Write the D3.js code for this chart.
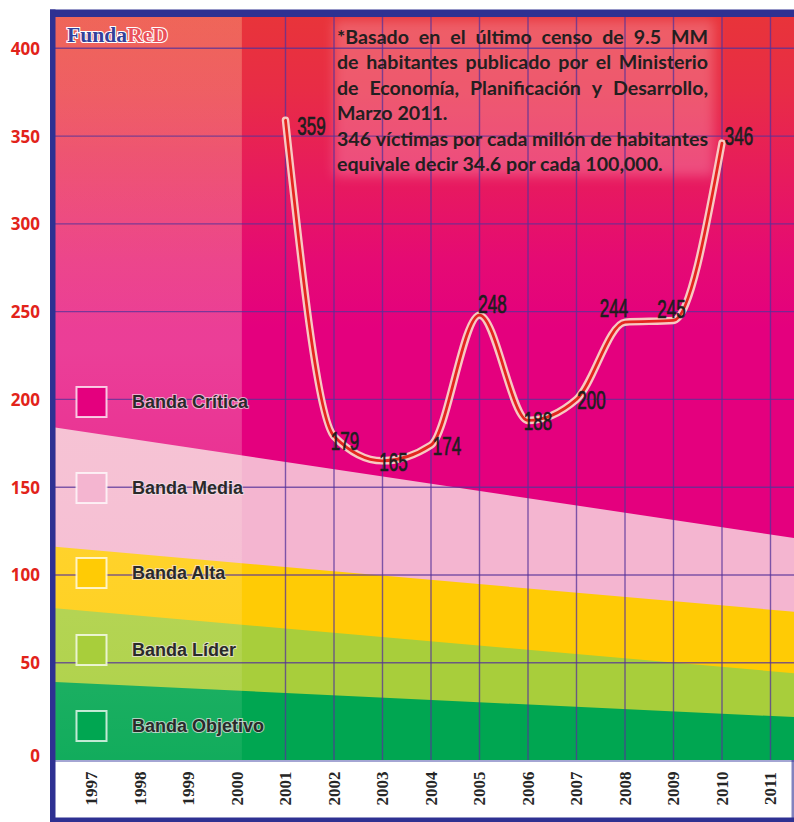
<!DOCTYPE html>
<html>
<head>
<meta charset="utf-8">
<script src="https://cdn.jsdelivr.net/npm/d3@7"></script>
<style>
  body { margin: 0; background: #ffffff; }
  svg { display: block; }
</style>
</head>
<body>
<svg id="chart" width="794" height="822"></svg>
<script>
// ---- data ----
const tickYears = [1997, 1998, 1999, 2000, 2001, 2002, 2003, 2004, 2005, 2006, 2007, 2008, 2009, 2010, 2011];
const yTicks = [0, 50, 100, 150, 200, 250, 300, 350, 400];
const years = [2001, 2002, 2003, 2004, 2005, 2006, 2007, 2008, 2009, 2010];
const victims = [359, 179, 165, 174, 248, 188, 200, 244, 245, 346];

const bandNames = ["Banda Crítica", "Banda Media", "Banda Alta", "Banda Líder", "Banda Objetivo"];
// upper edge of each lower band at the first and last edge year
const edgeYears = [1996.25, 2011.5];
const bandTopStart = [184, 116, 81, 39];
const bandTopEnd = [121, 79, 44, 19];
const shadedUntil = 2000.1;

const noteLines = [
  "*Basado en el último censo de 9.5 MM",
  "de habitantes  publicado por el Ministerio",
  "de Economía, Planificación y Desarrollo,",
  "Marzo 2011.",
  "346 víctimas por  cada millón de habitantes",
  "equivale decir 34.6 por cada 100,000."
];
const noteJustify = [true, true, true, false, true, false];

// ---- styles / layout ----
const bandColors = ["#E4007E", "#F4B5D0", "#FFCB05", "#A8CE3B", "#00A651"];
const legendRowY = [402, 488, 573, 650, 726];
const labelOffsets = [[26, 7], [11, 6], [11, 2], [16, 2], [13, -10], [10, 1], [15, 1], [-11, -13], [-2, -11], [17, -6]];
const plot = { left: 55, right: 794, top: 17, bottom: 760 };

const svg = d3.select("#chart");
const defs = svg.append("defs");

const x = d3.scaleLinear().domain([1997, 2011]).range([91.5, 770.5]);
const y = d3.scaleLinear().domain([0, 400]).range([750.5, 48.3]);

defs.append("clipPath").attr("id", "plotClip")
  .append("rect")
  .attr("x", plot.left).attr("y", plot.top)
  .attr("width", plot.right - plot.left).attr("height", plot.bottom - plot.top);

const grad = defs.append("linearGradient").attr("id", "critGrad")
  .attr("gradientUnits", "userSpaceOnUse")
  .attr("x1", 0).attr("x2", 0).attr("y1", plot.top).attr("y2", plot.bottom);
[[0, "#E8343A"], [0.1, "#E82C46"], [0.22, "#E71A5E"], [0.33, "#E50A74"], [0.42, "#E4007E"], [1, "#E4007E"]]
  .forEach(([o, c]) => grad.append("stop").attr("offset", o).attr("stop-color", c));

// shading for the early years: warmer and stronger at the top, fading downwards
const shade = defs.append("linearGradient").attr("id", "shadeGrad")
  .attr("gradientUnits", "userSpaceOnUse")
  .attr("x1", 0).attr("x2", 0).attr("y1", plot.top).attr("y2", plot.bottom);
shade.append("stop").attr("offset", 0).attr("stop-color", "#FFD9A0").attr("stop-opacity", 0.3);
shade.append("stop").attr("offset", 0.2).attr("stop-color", "#FFDDB8").attr("stop-opacity", 0.28);
shade.append("stop").attr("offset", 0.45).attr("stop-color", "#FFEFE0").attr("stop-opacity", 0.26);
shade.append("stop").attr("offset", 1).attr("stop-color", "#FFFFF0").attr("stop-opacity", 0.07);

const blur = defs.append("filter").attr("id", "soft")
  .attr("x", "-20%").attr("y", "-20%").attr("width", "140%").attr("height", "140%");
blur.append("feGaussianBlur").attr("stdDeviation", 6);

const body = svg.append("g").attr("clip-path", "url(#plotClip)");

// critical band background (gradient)
body.append("rect")
  .attr("x", plot.left).attr("y", plot.top)
  .attr("width", plot.right - plot.left).attr("height", plot.bottom - plot.top)
  .attr("fill", "url(#critGrad)");

// lower bands, each drawn from its upper edge down to the bottom
bandTopStart.forEach((v0, i) => {
  const v1 = bandTopEnd[i];
  const pts = [
    [x(edgeYears[0]), y(v0)],
    [x(edgeYears[1]), y(v1)],
    [x(edgeYears[1]), plot.bottom],
    [x(edgeYears[0]), plot.bottom]
  ];
  body.append("path")
    .attr("d", d3.line()(pts) + "Z")
    .attr("fill", bandColors[i + 1]);
});

// lighter shading over the years without data
body.append("rect")
  .attr("x", plot.left).attr("y", plot.top)
  .attr("width", x(shadedUntil) - plot.left).attr("height", plot.bottom - plot.top)
  .attr("fill", "url(#shadeGrad)");

// soft glow behind the note
body.append("rect")
  .attr("x", 334).attr("y", 20).attr("width", 380).attr("height", 156)
  .attr("fill", "#FFD8E4").attr("opacity", 0.26).attr("filter", "url(#soft)");

// grid
const grid = body.append("g").attr("stroke", "#55339A").attr("stroke-opacity", 0.75).attr("stroke-width", 1.4);
grid.selectAll("line.h").data(yTicks.filter(d => d > 0)).join("line")
  .attr("class", "h")
  .attr("x1", plot.left).attr("x2", plot.right)
  .attr("y1", d => y(d)).attr("y2", d => y(d));
grid.selectAll("line.v").data(tickYears.filter(d => d > 2000)).join("line")
  .attr("class", "v")
  .attr("x1", d => x(d)).attr("x2", d => x(d))
  .attr("y1", plot.top).attr("y2", plot.bottom);

// x-axis strip
svg.append("rect")
  .attr("x", plot.left).attr("y", plot.bottom)
  .attr("width", plot.right - plot.left - 2).attr("height", 818 - plot.bottom)
  .attr("fill", "#ffffff");
svg.append("line")
  .attr("x1", plot.left).attr("x2", plot.right)
  .attr("y1", plot.bottom + 1).attr("y2", plot.bottom + 1)
  .attr("stroke", "#4B4FA8").attr("stroke-width", 1.2);

svg.append("g").selectAll("text").data(tickYears).join("text")
  .attr("transform", d => `translate(${x(d)},788.5) rotate(-90)`)
  .attr("text-anchor", "middle").attr("dominant-baseline", "central")
  .attr("font-family", "Liberation Serif, DejaVu Serif, serif")
  .attr("font-weight", "bold").attr("font-size", 17)
  .attr("fill", "#262626")
  .text(d => d);

// frame
const frame = svg.append("g").attr("fill", "#2E3192");
frame.append("rect").attr("x", 50).attr("y", 9.5).attr("width", 744).attr("height", 7.5);
frame.append("rect").attr("x", 50).attr("y", 9.5).attr("width", 5.5).attr("height", 812.5);
frame.append("rect").attr("x", 50).attr("y", 817.5).attr("width", 744).attr("height", 4.5);
frame.append("rect").attr("x", 791.5).attr("y", plot.bottom).attr("width", 2.5).attr("height", 60).attr("opacity", 0.6);

// y tick labels
svg.append("g").selectAll("text").data(yTicks).join("text")
  .attr("x", 40).attr("y", d => y(d) + (d === 0 ? 5 : 0))
  .attr("text-anchor", "end").attr("dominant-baseline", "central")
  .attr("font-family", "Open Sans, Liberation Sans, sans-serif")
  .attr("font-weight", "bold").attr("font-size", 17)
  .attr("fill", "#E2231A")
  .text(d => d);

// legend
const legend = svg.append("g");
bandNames.forEach((name, i) => {
  const cy = legendRowY[i];
  legend.append("rect")
    .attr("x", 76.5).attr("y", cy - 15).attr("width", 30).attr("height", 30)
    .attr("fill", bandColors[i])
    .attr("stroke", "#FFFFFF").attr("stroke-opacity", 0.75).attr("stroke-width", 2);
  legend.append("text")
    .attr("x", 132).attr("y", cy).attr("dominant-baseline", "central")
    .attr("font-family", "Liberation Sans, Arial, sans-serif")
    .attr("font-weight", "bold").attr("font-size", 18)
    .attr("fill", "#2A2A2A")
    .attr("stroke", "#F2E6EC").attr("stroke-width", 2).attr("stroke-opacity", 0.7)
    .attr("paint-order", "stroke")
    .text(name);
});

// victims line
const pts = years.map((yr, i) => [x(yr), y(victims[i])]);
const lineGen = d3.line().curve(d3.curveMonotoneX);
svg.append("path").attr("d", lineGen(pts))
  .attr("fill", "none").attr("stroke", "#F8C9C2").attr("stroke-width", 7.5)
  .attr("stroke-linecap", "round").attr("stroke-linejoin", "round");
svg.append("path").attr("d", lineGen(pts))
  .attr("fill", "none").attr("stroke", "#E3261F").attr("stroke-width", 2.8)
  .attr("stroke-linecap", "round").attr("stroke-linejoin", "round");

// value labels
svg.append("g").selectAll("text").data(victims).join("text")
  .attr("transform", (d, i) => `translate(${x(years[i]) + labelOffsets[i][0]},${y(d) + labelOffsets[i][1]}) scale(0.68,1)`)
  .attr("text-anchor", "middle").attr("dominant-baseline", "central")
  .attr("font-family", "Liberation Sans, Arial, sans-serif")
  .attr("font-size", 25)
  .attr("fill", "#1E1E1E")
  .attr("stroke", "#1E1E1E").attr("stroke-width", 0.7)
  .text(d => d);

// note, justified block
const noteX = 337, noteWidth = 371, noteBase = [44.5, 69.5, 95, 120.5, 146, 171.5];
const note = svg.append("g")
  .attr("font-family", "Lato, Open Sans, sans-serif")
  .attr("font-weight", "bold").attr("font-size", 18)
  .attr("fill", "#231F20");
// measure last line to set the horizontal compression of the block
const probe = note.append("text").text(noteLines[5]);
const sx = 326 / probe.node().getComputedTextLength();
probe.remove();
note.attr("transform", `translate(${noteX},0) scale(${sx},1)`);
const target = noteWidth / sx;
noteLines.forEach((line, li) => {
  const t = note.append("text").attr("y", noteBase[li]);
  if (!noteJustify[li]) { t.attr("x", 0).text(line); return; }
  const words = line.split(/\s+/);
  const spans = words.map(w => t.append("tspan").text(w));
  const widths = spans.map(s => s.node().getComputedTextLength());
  const total = d3.sum(widths);
  const gap = (target - total) / (words.length - 1);
  let cx = 0;
  spans.forEach((s, k) => { s.attr("x", cx); cx += widths[k] + gap; });
});

// logo
const logo = svg.append("text")
  .attr("x", 67).attr("y", 41.5)
  .attr("font-family", "Liberation Serif, DejaVu Serif, serif")
  .attr("font-weight", "bold").attr("font-size", 20)
  .attr("stroke", "#FFFFFF").attr("stroke-width", 2).attr("paint-order", "stroke")
  .attr("textLength", 101).attr("lengthAdjust", "spacingAndGlyphs");
logo.append("tspan").attr("fill", "#34409A").text("Funda");
logo.append("tspan").attr("fill", "#E9505A").text("ReD");
</script>
</body>
</html>
